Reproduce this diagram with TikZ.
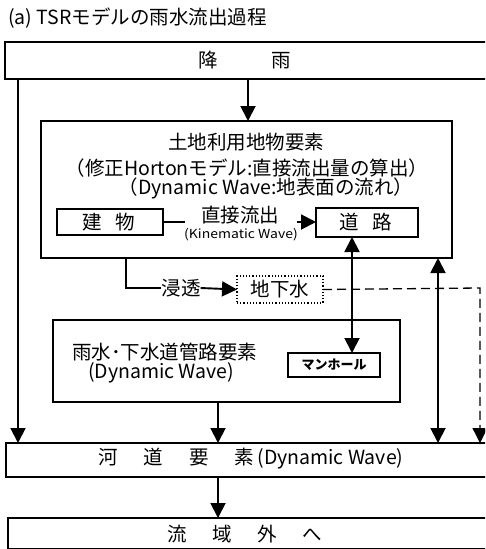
\documentclass[tikz,border=0pt]{standalone}
\usepackage{fontspec}
\setmainfont{Noto Sans CJK JP}
\usetikzlibrary{arrows.meta}
\begin{document}
\begin{tikzpicture}[x=1pt,y=-1pt,
  box/.style={draw=black, line width=1.2pt, rectangle, inner sep=0pt, outer sep=0pt, anchor=north west},
  arr/.style={line width=1.9pt, -{Triangle[length=15pt,width=15pt]}},
  darr/.style={line width=1.9pt, {Triangle[length=15pt,width=15pt]}-{Triangle[length=15pt,width=15pt]}},
  plainline/.style={line width=1.9pt},
  dashline/.style={line width=1.3pt, dash pattern=on 9pt off 5pt, -{Triangle[length=15pt,width=15pt]}},
  txt/.style={inner sep=0pt, font=\fontsize{19.5}{22}\selectfont},
  ttl/.style={inner sep=0pt, font=\fontsize{19.5}{21}\selectfont},
  small/.style={inner sep=0pt, font=\fontsize{12.5}{14}\selectfont},
]
\useasboundingbox (0,0) rectangle (485,549);
\clip (0,0) rectangle (485,549);

% title
\node[ttl, anchor=west] (title) at (8,18) {(a) TSRモデルの雨水流出過程};

% boxes
\node[box, minimum width=490pt, minimum height=37pt] (rain) at (5,42) {};
\node[box, minimum width=411pt, minimum height=137pt] (land) at (41,121) {};
\node[box, minimum width=106pt, minimum height=26pt] (bldg) at (57,209) {};
\node[box, minimum width=102pt, minimum height=29pt] (road) at (316,208) {};
\node[box, dotted, line width=1.3pt, minimum width=86pt, minimum height=27pt] (gw) at (237,276) {};
\node[box, minimum width=347pt, minimum height=82pt] (sewer) at (53,320) {};
\node[box, minimum width=92pt, minimum height=24pt] (mh) at (288,353) {};
\node[box, minimum width=489pt, minimum height=34pt] (river) at (6,443) {};
\node[box, minimum width=487pt, minimum height=31pt] (out) at (8,518) {};

% texts
\node[txt, anchor=west] (rainT) at (198,60) {降\hspace{54pt}雨};
\node[txt] (landT1) at (246,142) {土地利用地物要素};
\node[txt] (landT2) at (247,168) {（修正Hortonモデル:直接流出量の算出）};
\node[txt] (landT3) at (266,188) {（Dynamic Wave:地表面の流れ）};
\node[txt] (bldgT) at (109,222) {建\hspace{14pt}物};
\node[txt] (roadT) at (366,222) {道\hspace{14pt}路};
\node[txt] (directT) at (240,215) {直接流出};
\node[small] (kinT) at (241,235) {\scalebox{1.12}[1]{(Kinematic Wave)}};
\node[txt] (seepT) at (181,288) {浸透};
\node[txt] (gwT) at (280,289) {地下水};
\node[txt, anchor=west] (sewerT1) at (72,352) {雨水･下水道管路要素};
\node[txt, anchor=west] (sewerT2) at (88,373) {(Dynamic Wave)};
\node[inner sep=0pt, font=\fontsize{13}{15}\selectfont\bfseries] (mhT) at (334,365) {マンホール};
\node[txt, anchor=west] (riverT) at (98,459) {河\hspace{26pt}道\hspace{26pt}要\hspace{26pt}素\,(Dynamic Wave)};
\node[txt, anchor=west] (outT) at (167,534) {流\hspace{25.5pt}域\hspace{25.5pt}外\hspace{25.5pt}へ};

% helper coordinates
\coordinate (xL) at (18,0);
\coordinate (xM) at (248,0);
\coordinate (xS) at (218,0);
\coordinate (xR) at (438,0);
\coordinate (xD) at (480,0);
\coordinate (xP) at (126,0);
\coordinate (xH) at (352,0);
\coordinate (bend) at (126,288);
\coordinate (dcorner) at (480,288);
\coordinate (kA) at (185,222);
\coordinate (kB) at (297,222);

% connectors
\draw[arr] (rain.south -| xM) -- (land.north -| xM);
\draw[arr] (rain.south -| xL) -- (river.north -| xL);
\draw[plainline] (bldg.east |- kA) -- (kA);
\draw[arr] (kB) -- (road.west |- kB);
\draw[darr] (road.south -| xH) -- (mh.north -| xH);
\draw[plainline] (land.south -| xP) -- (bend) -- (seepT.west);
\draw[arr] (seepT.east) -- (gw.west);
\draw[dashline] (gw.east) -- (dcorner) -- (river.north -| xD);
\draw[darr] (land.south -| xR) -- (river.north -| xR);
\draw[arr] (sewer.south -| xS) -- (river.north -| xS);
\draw[arr] (river.south -| xS) -- (out.north -| xS);
\end{tikzpicture}
\end{document}
